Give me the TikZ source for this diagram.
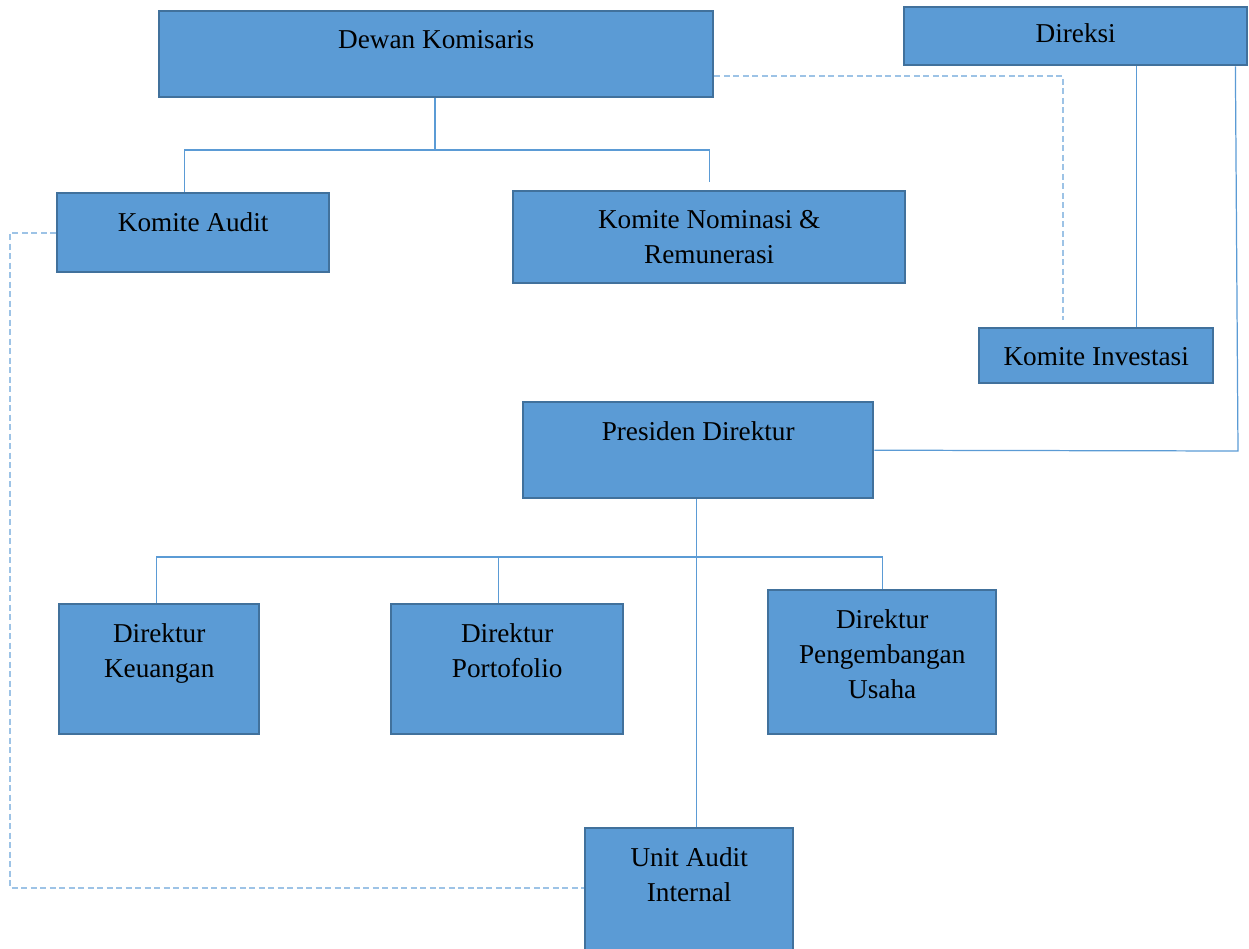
\documentclass[tikz,border=0pt]{standalone}
\usepackage{fontspec}
\setmainfont{Liberation Serif}
\usepackage{tikz}
\usepackage{xcolor}
\usetikzlibrary{positioning}

\definecolor{boxfill}{HTML}{5B9BD5}
\definecolor{boxline}{HTML}{41719C}
\definecolor{linkblue}{HTML}{5B9BD5}
\definecolor{dashblue}{HTML}{9DC3E6}

\begin{document}
\begin{tikzpicture}[x=0.02cm, y=-0.02cm,
        box/.style={draw=boxline, fill=boxfill, line width=1.4pt, anchor=north west, inner sep=0pt},
        lbl/.style={anchor=north, yshift=-0.4cm, inner sep=0pt, align=center,
            font=\fontsize{15.5}{19.9}\selectfont},
        conn/.style={draw=linkblue, line width=0.7pt},
        dashconn/.style={draw=dashblue, line width=1pt, dash pattern=on 0.12cm off 0.07cm}]
    \useasboundingbox (0,0) rectangle (1249,949);
    % top row
    \node [box, minimum width=11.08cm, minimum height=1.72cm,
        label={[lbl]north:Dewan Komisaris}] (dk) at (158,10) {};
    \node [box, minimum width=6.86cm, minimum height=1.16cm,
        label={[lbl, yshift=0.06cm]north:Direksi}] (dr) at (903,6) {};
    % komite
    \node [box, minimum width=5.44cm, minimum height=1.58cm,
        label={[lbl]north:Komite Audit}] (ka) at (56,192) {};
    \node [box, minimum width=7.84cm, minimum height=1.84cm,
        label={[lbl]north:Komite Nominasi \&\\Remunerasi}] (kn) at (512,190) {};
    \node [box, minimum width=4.68cm, minimum height=1.1cm,
        label={[lbl]north:Komite Investasi}] (ki) at (978,327) {};
    % direktur
    \node [box, minimum width=7cm, minimum height=1.92cm,
        label={[lbl]north:Presiden Direktur}] (pd) at (522,401) {};
    \node [box, minimum width=4cm, minimum height=2.6cm,
        label={[lbl]north:Direktur\\Keuangan}] (dku) at (58,603) {};
    \node [box, minimum width=4.64cm, minimum height=2.6cm,
        label={[lbl]north:Direktur\\Portofolio}] (dpo) at (390,603) {};
    \node [box, minimum width=4.56cm, minimum height=2.88cm,
        label={[lbl]north:Direktur\\Pengembangan\\Usaha}] (dpg) at (767,589) {};
    \node [box, minimum width=4.16cm, minimum height=3.4cm,
        label={[lbl]north:Unit Audit\\Internal}] (uai) at (584,827) {};

    \coordinate (dkbar) at (435,150);
    \coordinate (drcorner) at (1238,451);
    \coordinate (pdbar) at (695,557);
    \coordinate (auleft) at (10,888);

    \draw[conn] (dkbar |- dk.south) -- (dkbar);
    \draw[conn] ([xshift=-0.18cm]ka.north) |- (dkbar) -| ([yshift=0.16cm]kn.north);
    \draw[dashconn] ([yshift=-0.44cm]dk.east) -| ([xshift=-0.66cm,yshift=0.14cm]ki.north);
    \draw[conn] ([xshift=0.8cm]ki.north) -- ([xshift=0.8cm]ki.north |- dr.south);
    \draw[conn] ([xshift=-0.26cm]dr.south east) -- (drcorner) -- (pd.east);
    \draw[conn] ([xshift=-0.04cm]pd.south) -- ([xshift=-0.04cm]pd.south |- uai.north);
    \draw[conn] ([xshift=-0.06cm]dku.north) |- (pdbar) -| (dpg.north);
    \draw[conn] ([xshift=-0.18cm]dpo.north) -- ([xshift=-0.18cm]dpo.north |- pdbar);
    \draw[dashconn] (ka.west) -| (auleft) -- (auleft -| uai.west);
\end{tikzpicture}
\end{document}
